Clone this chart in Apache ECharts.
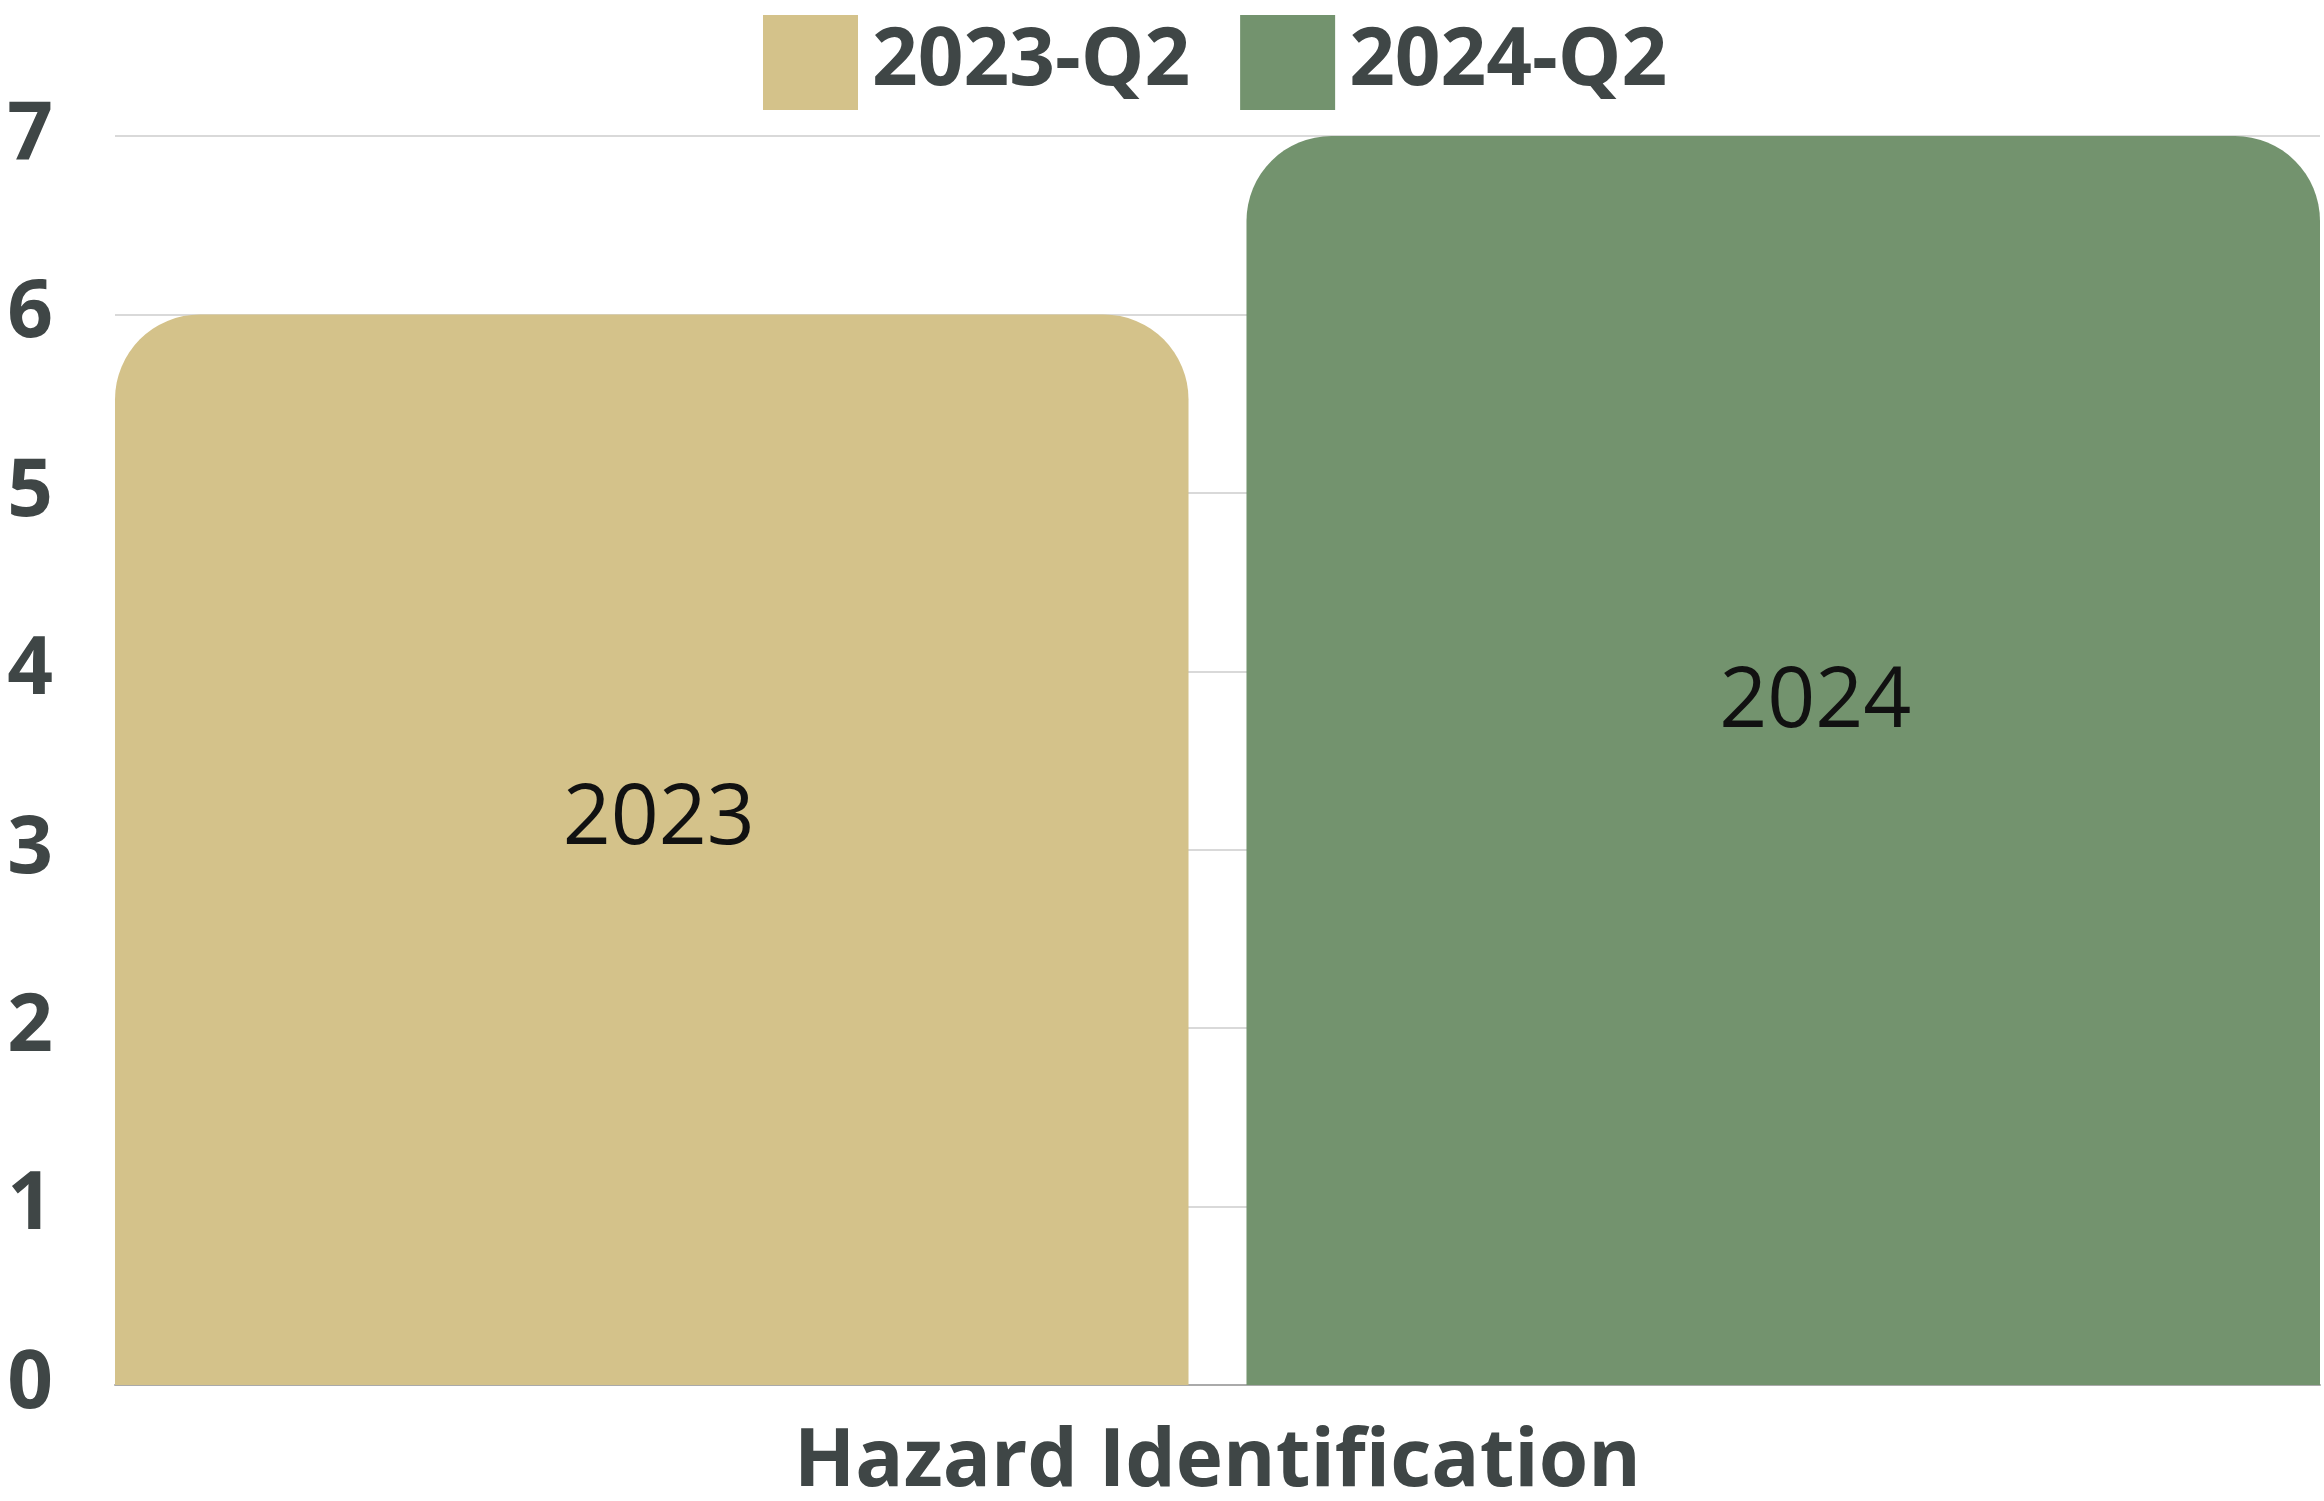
<!DOCTYPE html>
<html><head><meta charset="utf-8">
<script src="https://cdn.jsdelivr.net/npm/echarts@6/dist/echarts.min.js"></script>
<style>html,body{margin:0;padding:0;background:#fff}#c{width:2324px;height:1501px}</style>
</head><body><div id="c"></div>
<script>
const categories = ['Hazard Identification'];
const seriesNames = ['2023-Q2', '2024-Q2'];
const values2023 = [6];
const values2024 = [7];
const barLabels = ['2023', '2024'];
const yTicks = [0, 1, 2, 3, 4, 5, 6, 7];

const colors = ['#D4C28A', '#73936E'];
const labelOffsets = [[7, -30], [32, -57]];
const textColor = '#3F4646';

const chart = echarts.init(document.getElementById('c'));
function mkSeries(i, vals) {
  return {
    name: seriesNames[i], type: 'bar', data: vals,
    barGap: '5.4%', barCategoryGap: '0%',
    itemStyle: { color: colors[i], borderRadius: [85, 85, 0, 0] },
    label: { show: true, position: 'inside', formatter: barLabels[i], color: '#111',
      fontFamily: 'Open Sans', fontSize: 84, fontWeight: 'normal', offset: labelOffsets[i] }
  };
}
chart.setOption({
  animation: false,
  color: colors,
  legend: {
    top: 10, left: 758, itemWidth: 95, itemHeight: 95, itemGap: 50,
    icon: 'rect',
    textStyle: { fontFamily: 'Open Sans', fontWeight: 'bold', fontSize: 80, color: textColor, padding: [0, 0, 14, 9] },
    data: seriesNames
  },
  grid: { left: 115, right: 4, top: 136, bottom: 116, containLabel: false, outerBoundsMode: 'none' },
  xAxis: {
    type: 'category', data: categories,
    axisTick: { show: false },
    axisLine: { show: true, lineStyle: { color: '#aaaaaa', width: 2 } },
    axisLabel: { fontFamily: 'Open Sans', fontWeight: 'bold', fontSize: 80, color: textColor, margin: 38 }
  },
  yAxis: {
    type: 'value', min: yTicks[0], max: yTicks[yTicks.length - 1], interval: 1,
    axisLine: { show: false }, axisTick: { show: false },
    splitLine: { lineStyle: { color: '#d9d9d9', width: 2 } },
    axisLabel: { fontFamily: 'Open Sans', fontWeight: 'bold', fontSize: 80, color: textColor, margin: 62, align: 'right', padding: [10, 0, 0, 0] }
  },
  series: [mkSeries(0, values2023), mkSeries(1, values2024)]
});
</script></body></html>
